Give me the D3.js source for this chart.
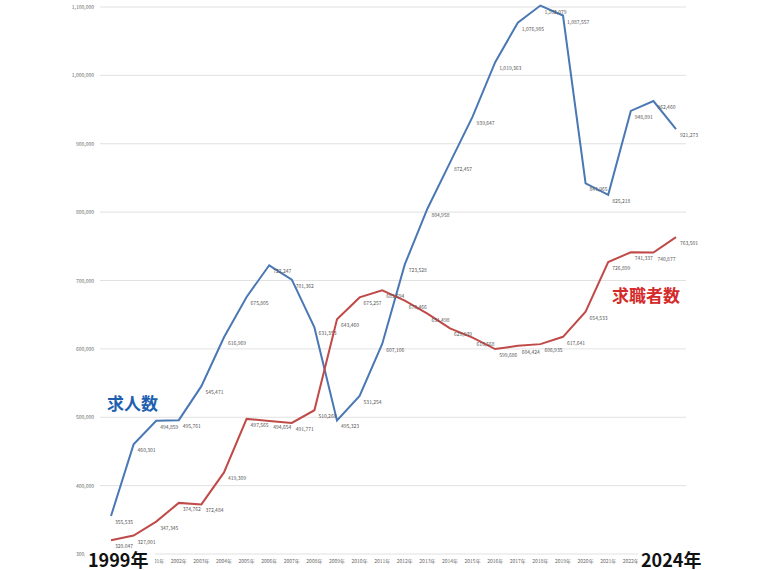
<!DOCTYPE html>
<html><head><meta charset="utf-8">
<script src="https://cdn.jsdelivr.net/npm/d3@7"></script>
<style>body{margin:0;background:#fff}</style>
</head><body><div id="chart"></div>
<script>
const years = d3.range(1999, 2025);
const jobOffers = [355535, 460301, 494859, 495761, 545471, 616969, 675805, 722247, 701362, 631353, 495323, 531254, 607106, 723528, 804958, 872457, 939647, 1019363, 1076905, 1102079, 1087557, 841965, 825218, 948091, 962460, 921273];
const jobSeekers = [320047, 327001, 347345, 374762, 372484, 419309, 497565, 494654, 491771, 510260, 643460, 675257, 685694, 670466, 651498, 629939, 616568, 599686, 604424, 606935, 617641, 654533, 726899, 741337, 740877, 763501];
const yTicks = d3.range(300000, 1100001, 100000);

const width = 760, height = 570;
const svg = d3.select('#chart').append('svg')
  .attr('width', width).attr('height', height)
  .attr('font-family', '"Noto Sans CJK JP", sans-serif');

const x = d3.scaleLinear().domain([1999, 2024]).range([111, 676]);
const y = d3.scaleLinear().domain([300000, 1100000]).range([554, 7]);
const fmt = d3.format(',');

// gridlines + y labels
svg.append('g').selectAll('line').data(yTicks).join('line')
  .attr('x1', 100).attr('x2', 686)
  .attr('y1', d => y(d)).attr('y2', d => y(d))
  .attr('stroke', '#d9d9d9').attr('stroke-width', 0.8);
svg.append('g').selectAll('text').data(yTicks).join('text')
  .attr('x', 94).attr('y', d => y(d) + 2)
  .attr('text-anchor', 'end').attr('font-size', 5).attr('fill', '#666')
  .text(d => fmt(d));

// x labels
svg.append('g').selectAll('text').data(years).join('text')
  .attr('x', d => x(d)).attr('y', 563)
  .attr('text-anchor', 'middle').attr('font-size', 5).attr('fill', '#666')
  .text(d => d + '年');

const line = d3.line().x((d, i) => x(years[i])).y(d => y(d));
const series = [
  {values: jobOffers, color: '#4a78b4'},
  {values: jobSeekers, color: '#bf4a48'}
];
series.forEach(s => {
  svg.append('path').datum(s.values)
    .attr('d', line).attr('fill', 'none')
    .attr('stroke', s.color).attr('stroke-width', 2);
  svg.append('g').selectAll('text').data(s.values).join('text')
    .attr('x', (d, i) => x(years[i]) + 4).attr('y', d => y(d) + 8)
    .attr('font-size', 5).attr('fill', '#555')
    .text(d => fmt(d));
});

// annotations
svg.append('text').attr('x', 107).attr('y', 410)
  .attr('font-size', 17).attr('font-weight', 'bold').attr('fill', '#1f5fb0').text('求人数');
svg.append('text').attr('x', 612).attr('y', 302)
  .attr('font-size', 17).attr('font-weight', 'bold').attr('fill', '#d42a2a').text('求職者数');
svg.append('rect').attr('x', 85).attr('y', 548).attr('width', 70).attr('height', 22).attr('fill', '#fff');
svg.append('text').attr('x', 88).attr('y', 567)
  .attr('font-size', 18).attr('font-weight', 'bold').attr('fill', '#111').text('1999年');
svg.append('rect').attr('x', 638).attr('y', 548).attr('width', 70).attr('height', 22).attr('fill', '#fff');
svg.append('text').attr('x', 641).attr('y', 567)
  .attr('font-size', 18).attr('font-weight', 'bold').attr('fill', '#111').text('2024年');
</script></body></html>
